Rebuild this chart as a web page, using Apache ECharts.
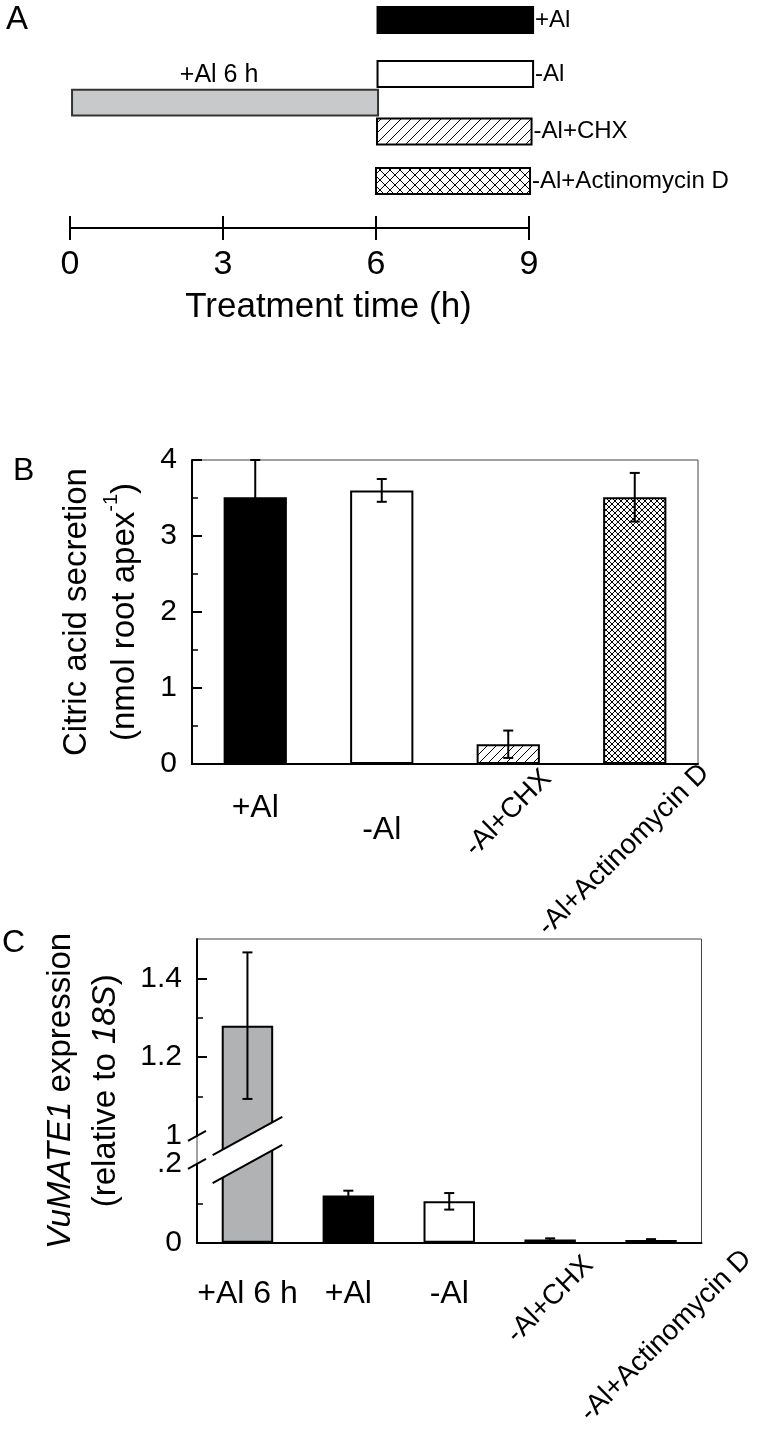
<!DOCTYPE html>
<html>
<head>
<meta charset="utf-8">
<script src="https://cdn.jsdelivr.net/npm/echarts@6.0.0/dist/echarts.min.js"></script>
<style>
html, body { margin: 0; padding: 0; background: #fff; }
#main { width: 759px; height: 1429px; }
</style>
</head>
<body>
<div id="main"></div>
<script>
// A: treatment scheme (hours)
const schemeNames = ['+Al', '-Al', '+Al 6 h', '-Al+CHX', '-Al+Actinomycin D'];
const schemeStart = [6.03, 6.03, 0.04, 6.02, 6.0];
const schemeEnd = [9.08, 9.08, 6.04, 9.05, 9.02];
const schemeRow = [0, 2, 3.06, 4.13, 5.96];
const schemeFill = ['black', 'white', 'gray', 'hatch', 'cross'];
const timeTicks = [0, 3, 6, 9];

// B: citric acid secretion
const catB = ['+Al', '-Al', '-Al+CHX', '-Al+Actinomycin D'];
const citrate = [3.51, 3.6, 0.26, 3.51];
const citrateErr = [0.49, 0.15, 0.18, 0.32];
const fillB = ['black', 'white', 'hatch', 'cross'];

// C: VuMATE1 expression (broken axis)
const catC = ['+Al 6 h', '+Al', '-Al', '-Al+CHX', '-Al+Actinomycin D'];
const mate = [1.28, 0.12, 0.105, 0.008, 0.007];
const mateErr = [0.186, 0.012, 0.021, 0.003, 0.002];
const fillC = ['dark', 'black', 'white', 'hatch', 'cross'];
const breakC = [0.2, 1.0];
const ticksC = [0, 0.2, 1.0, 1.2, 1.4];
const tickTextC = ['0', '.2', '1', '1.2', '1.4'];
const minorC = [0.1, 1.1, 1.3];

const FF = '"Liberation Sans", Arial, Helvetica, sans-serif';

// hatch / crosshatch fills
const patternCache = {};
function makePattern(kind, size) {
  const c = document.createElement('canvas');
  c.width = size; c.height = size;
  const g = c.getContext('2d');
  g.fillStyle = '#fff';
  g.fillRect(0, 0, size, size);
  g.strokeStyle = '#000';
  g.lineWidth = 1;
  g.beginPath();
  for (let k = -1; k <= 1; k++) {
    g.moveTo(k * size, size); g.lineTo(k * size + size, 0);
    if (kind === 'cross') { g.moveTo(k * size, 0); g.lineTo(k * size + size, size); }
  }
  g.stroke();
  return { image: c, repeat: 'repeat' };
}
function fillFor(kind, size) {
  if (kind === 'black') return '#000';
  if (kind === 'white') return '#fff';
  if (kind === 'gray') return '#c8c9cb';
  if (kind === 'dark') return '#b1b2b4';
  const key = kind + size;
  if (!patternCache[key]) patternCache[key] = makePattern(kind, size);
  return patternCache[key];
}

function labelAxis(gridIndex, cats, show, label, line) {
  return {
    gridIndex: gridIndex, type: 'category', data: cats, position: 'bottom',
    axisLine: line ? { lineStyle: { color: '#000', width: 2 } } : { show: false },
    axisTick: { show: false }, splitLine: { show: false },
    axisLabel: Object.assign({
      interval: 0, color: '#000', fontFamily: FF,
      formatter: function (v, i) { return show.indexOf(i) >= 0 ? v : ''; }
    }, label)
  };
}

function errorSeries(xIdx, yIdx, vals, errs) {
  return {
    type: 'custom', xAxisIndex: xIdx, yAxisIndex: yIdx, z: 5,
    data: vals.map(function (v, i) { return [i, v - errs[i], v + errs[i]]; }),
    renderItem: function (params, api) {
      const lo = api.coord([api.value(0), api.value(1)]);
      const hi = api.coord([api.value(0), api.value(2)]);
      const w = 5;
      const st = { stroke: '#000', lineWidth: 2 };
      return {
        type: 'group', children: [
          { type: 'line', shape: { x1: lo[0], y1: lo[1], x2: hi[0], y2: hi[1] }, style: st },
          { type: 'line', shape: { x1: hi[0] - w, y1: hi[1], x2: hi[0] + w, y2: hi[1] }, style: st },
          { type: 'line', shape: { x1: lo[0] - w, y1: lo[1], x2: lo[0] + w, y2: lo[1] }, style: st }
        ]
      };
    }
  };
}

const chart = echarts.init(document.getElementById('main'));

const timeAxisBase = { type: 'value', min: 0, max: 9, interval: 3, position: 'bottom', splitLine: { show: false } };

const option = {
  animation: false,
  backgroundColor: '#fff',
  textStyle: { fontFamily: FF, color: '#000' },
  graphic: [
    { type: 'text', left: 6, top: 3, style: { text: 'A', fontSize: 33, fontFamily: FF, fill: '#000' } },
    { type: 'text', left: 13, top: 455, style: { text: 'B', fontSize: 32, fontFamily: FF, fill: '#000' } },
    { type: 'text', left: 2, top: 927, style: { text: 'C', fontSize: 32, fontFamily: FF, fill: '#000' } }
  ],
  grid: [
    { left: 70, top: 6.5, width: 459, height: 189 },
    { left: 192, top: 460, width: 506, height: 304, show: true, borderColor: '#444', borderWidth: 1 },
    { left: 197, top: 939, width: 505, height: 304, show: true, borderColor: '#444', borderWidth: 1 },
    { left: 70, top: 200, width: 459, height: 28 },
    { left: 70, top: 200, width: 459, height: 28 }
  ],
  xAxis: [
    // A: scale for the scheme bars
    Object.assign({}, timeAxisBase, { gridIndex: 0, show: false }),
    // A: time axis, upward half of ticks
    Object.assign({}, timeAxisBase, { gridIndex: 3,
      axisLine: { lineStyle: { color: '#000', width: 2 } },
      axisTick: { inside: true, length: 12, lineStyle: { color: '#000', width: 2 } },
      axisLabel: { show: false } }),
    // A: time axis, downward ticks + labels
    Object.assign({}, timeAxisBase, { gridIndex: 4,
      axisLine: { lineStyle: { color: '#000', width: 2 } },
      axisTick: { length: 12, lineStyle: { color: '#000', width: 2 } },
      axisLabel: { fontSize: 34, margin: 20, color: '#000',
        formatter: function (v) { return timeTicks.indexOf(v) >= 0 ? String(v) : ''; } },
      name: 'Treatment time (h)', nameLocation: 'middle', nameGap: 62,
      nameTextStyle: { fontSize: 35, color: '#000', padding: [0, 0, 0, 58] } }),
    // B
    labelAxis(1, catB, [0], { fontSize: 32, margin: 44, verticalAlign: 'middle' }, true),
    labelAxis(1, catB, [1], { fontSize: 32, margin: 66, verticalAlign: 'middle' }),
    labelAxis(1, catB, [2], { fontSize: 28, rotate: 45, align: 'center', verticalAlign: 'middle', margin: 49 }),
    labelAxis(1, catB, [3], { fontSize: 28, rotate: 45, align: 'center', verticalAlign: 'middle', margin: 75, padding: [0, 31, 0, 0] }),
    // C
    labelAxis(2, catC, [0, 1, 2], { fontSize: 32, margin: 51, verticalAlign: 'middle' }, true),
    labelAxis(2, catC, [3], { fontSize: 28, rotate: 45, align: 'center', verticalAlign: 'middle', margin: 57 }),
    labelAxis(2, catC, [4], { fontSize: 28, rotate: 45, align: 'center', verticalAlign: 'middle', margin: 108, padding: [0, 0, 0, 42] })
  ],
  yAxis: [
    { gridIndex: 0, type: 'value', min: -0.5, max: 6.5, inverse: true, show: false },
    { gridIndex: 1, type: 'value', min: 0, max: 4, interval: 1, position: 'left',
      axisLine: { show: true, lineStyle: { color: '#000', width: 2 } },
      axisTick: { show: true, inside: true, length: 10, lineStyle: { color: '#000', width: 2 } },
      minorTick: { show: true, splitNumber: 2, length: 6, lineStyle: { color: '#000', width: 1.5 } },
      axisLabel: { fontSize: 30, margin: 15, color: '#000' },
      splitLine: { show: false },
      name: '{t|Citric acid secretion}\n{t|(nmol root apex}{s|-1}{t|)}',
      nameLocation: 'middle', nameRotate: 90, nameGap: 43,
      nameTextStyle: { rich: {
        t: { fontSize: 33, lineHeight: 48, color: '#000', fontFamily: FF },
        s: { fontSize: 20, lineHeight: 26, verticalAlign: 'top', color: '#000', fontFamily: FF }
      } } },
    { gridIndex: 2, type: 'value', min: 0, max: 1.5, position: 'left',
      breaks: [{ start: breakC[0], end: breakC[1], gap: '9.2%' }],
      breakArea: { show: false },
      breakLabelLayout: { moveOverlap: false },
      axisLine: { show: true, lineStyle: { color: '#000', width: 2 } },
      axisTick: { show: true, inside: true, length: 10, customValues: [0, 1.2, 1.4], lineStyle: { color: '#000', width: 2 } },
      axisLabel: { fontSize: 30, margin: 15, color: '#000', customValues: ticksC,
        formatter: function (v) {
          const k = ticksC.findIndex(function (t) { return Math.abs(t - v) < 1e-6; });
          return k >= 0 ? tickTextC[k] : '';
        } },
      splitLine: { show: false },
      name: '{i|VuMATE1}{t| expression}\n{t|(relative to }{i|18S}{t|)}',
      nameLocation: 'middle', nameRotate: 90, nameGap: 69,
      nameTextStyle: { rich: {
        t: { fontSize: 33, lineHeight: 45, color: '#000', fontFamily: FF },
        i: { fontSize: 33, lineHeight: 45, fontStyle: 'italic', color: '#000', fontFamily: FF }
      } } },
    { gridIndex: 2, type: 'value', min: 0, max: 1.5, position: 'left',
      breaks: [{ start: breakC[0], end: breakC[1], gap: '9.2%' }],
      breakArea: { show: false },
      axisLine: { show: false },
      axisTick: { show: true, inside: true, length: 6, customValues: minorC, lineStyle: { color: '#000', width: 1.5 } },
      axisLabel: { show: false }, splitLine: { show: false } },
    { gridIndex: 3, type: 'value', show: false },
    { gridIndex: 4, type: 'value', show: false }
  ],
  series: [
    // A: scheme bars
    { type: 'custom', xAxisIndex: 0, yAxisIndex: 0,
      data: schemeNames.map(function (n, i) { return [schemeStart[i], schemeEnd[i], schemeRow[i]]; }),
      renderItem: function (params, api) {
        const i = params.dataIndex;
        const p0 = api.coord([api.value(0), api.value(2)]);
        const p1 = api.coord([api.value(1), api.value(2)]);
        const h = api.size([0, 1])[1] * 0.96;
        const kind = schemeFill[i];
        const children = [{
          type: 'rect',
          shape: { x: p0[0], y: p0[1] - h / 2, width: p1[0] - p0[0], height: h },
          style: { fill: fillFor(kind, 10), stroke: kind === 'gray' ? '#333' : '#000', lineWidth: 2 }
        }];
        if (kind === 'gray') {
          children.push({ type: 'text', style: { text: schemeNames[i], x: (p0[0] + p1[0]) / 2 - 6, y: p0[1] - h / 2 - 15,
            align: 'center', verticalAlign: 'middle', fontSize: 25, fontFamily: FF, fill: '#000' } });
        } else {
          children.push({ type: 'text', style: { text: schemeNames[i], x: p1[0] + 2, y: p0[1],
            align: 'left', verticalAlign: 'middle', fontSize: 24, fontFamily: FF, fill: '#000' } });
        }
        return { type: 'group', children: children };
      } },
    // B bars
    { type: 'bar', xAxisIndex: 3, yAxisIndex: 1, barWidth: '50%',
      data: citrate.map(function (v, i) {
        return { value: v, itemStyle: { color: fillFor(fillB[i], i === 3 ? 6 : 9), borderColor: '#000', borderWidth: 2 } };
      }) },
    errorSeries(3, 1, citrate, citrateErr),
    // C bars
    { type: 'bar', xAxisIndex: 7, yAxisIndex: 2, barWidth: '51%',
      data: mate.map(function (v, i) {
        return { value: v, itemStyle: { color: fillFor(fillC[i], 6), borderColor: '#000', borderWidth: 2 } };
      }) },
    errorSeries(7, 2, mate, mateErr),
    // C break marks on the +Al 6 h bar and on the y axis
    { type: 'custom', xAxisIndex: 7, yAxisIndex: 2, z: 6,
      data: [[0, breakC[0], breakC[1]]],
      renderItem: function (params, api) {
        const lo = api.coord([api.value(0), api.value(1)]);
        const hi = api.coord([api.value(0), api.value(2)]);
        const cx = lo[0];
        const hw = api.size([1, 0])[0] * 0.345;
        const s = 0.55;
        const ax = params.coordSys.x;
        const st = { stroke: '#000', lineWidth: 2 };
        return {
          type: 'group', children: [
            { type: 'polygon', shape: { points: [[cx - hw, hi[1] + s * hw], [cx + hw, hi[1] - s * hw], [cx + hw, lo[1] - s * hw], [cx - hw, lo[1] + s * hw]] },
              style: { fill: '#fff' } },
            { type: 'line', shape: { x1: cx - hw, y1: hi[1] + s * hw, x2: cx + hw, y2: hi[1] - s * hw }, style: st },
            { type: 'line', shape: { x1: cx - hw, y1: lo[1] + s * hw, x2: cx + hw, y2: lo[1] - s * hw }, style: st },
            { type: 'line', shape: { x1: ax - 9, y1: hi[1] + 5, x2: ax + 9, y2: hi[1] - 5 }, style: st },
            { type: 'line', shape: { x1: ax - 9, y1: lo[1] + 5, x2: ax + 9, y2: lo[1] - 5 }, style: st }
          ]
        };
      } }
  ]
};

chart.setOption(option);
</script>
</body>
</html>
